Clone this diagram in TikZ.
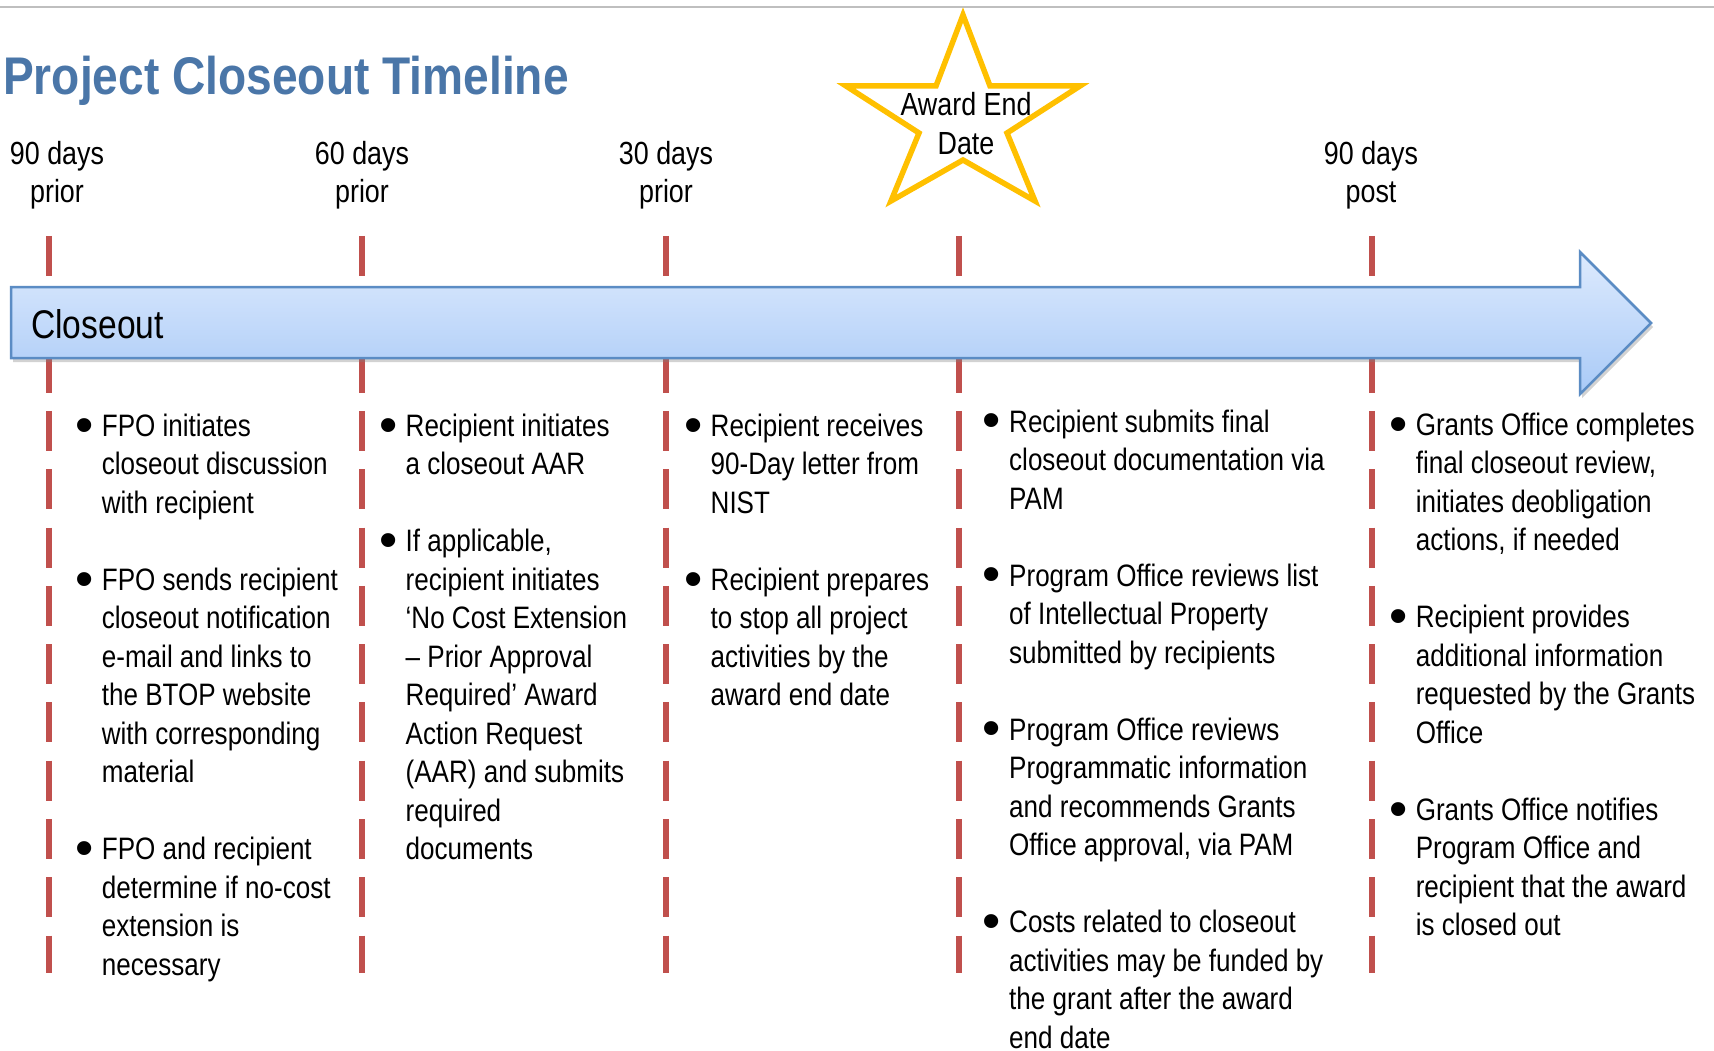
\documentclass[tikz,border=0pt]{standalone}
\usepackage{graphicx}
\usepackage{fontspec}
\setmainfont{Liberation Sans}[FakeStretch=0.84]
\newfontfamily\titlefont{Liberation Sans}[FakeStretch=0.87]
\usetikzlibrary{shadows}
\definecolor{titleblue}{HTML}{4A76A8}
\definecolor{tickred}{HTML}{C0504D}
\definecolor{stargold}{HTML}{FFC000}
\definecolor{arrowedge}{HTML}{5B8CC4}
\definecolor{arrowtop}{HTML}{DDEAFD}
\definecolor{arrowbot}{HTML}{A9CAF7}
\definecolor{rulegray}{HTML}{BFBFBF}
\newcommand{\bul}{\llap{\raisebox{-5.7pt}{\scalebox{2.0}[1.65]{\textbullet}}\hspace{8.4pt}}}
\newcommand{\fs}{\rule{0pt}{30pt}}
\begin{document}
\begin{tikzpicture}[x=1pt,y=-1pt,
  tick/.style={draw=tickred, line width=5.5pt, dash pattern=on 40pt off 18.3pt},
  body/.style={anchor=north west, inner sep=0pt, align=left, font=\fontsize{31}{38.5}\selectfont},
  hdr/.style={anchor=north, inner sep=0pt, align=center, font=\fontsize{32}{38}\selectfont}]
\useasboundingbox (0,0) rectangle (1714,1051);
\fill[white] (0,0) rectangle (1714,1051);
% top rule
\coordinate (rl) at (0,7);
\coordinate (rr) at (1714,7);
\draw[rulegray, line width=2.5pt] (rl) -- (rr);
% title
\node[anchor=base west, inner sep=0pt, text=titleblue, font=\titlefont\bfseries\fontsize{53}{60}\selectfont] (title) at (3,95) {Project Closeout Timeline};
% ticks
\foreach \n/\x in {1/49, 2/362, 3/666, 4/959, 5/1372} {
  \coordinate (t\n top) at (\x,236);
  \coordinate (t\n bot) at (\x,973);
  \draw[tick] (t\n top) -- (t\n bot);
}
% arrow
\draw[draw=arrowedge, line width=2.5pt, top color=arrowtop, bottom color=arrowbot, line join=miter,
      drop shadow={shadow xshift=2pt, shadow yshift=-4pt, opacity=0.35}]
  (11,287) -- (1580,287) -- (1580,252) -- (1651,323) -- (1580,394) -- (1580,358) -- (11,358) -- cycle;
\node[anchor=base west, inner sep=0pt, font=\fontsize{40}{48}\selectfont] (closeout) at (31,338) {Closeout};
% headers
\node[hdr] (h1) at (57,134) {\fs 90 days\\prior};
\node[hdr] (h2) at (362,134) {\fs 60 days\\prior};
\node[hdr] (h3) at (666,134) {\fs 30 days\\prior};
\node[hdr] (h5) at (1371,134) {\fs 90 days\\post};
% star
\draw[stargold, line width=5.5pt, fill=white, line join=miter]
  (963,15) -- (990,86) -- (1080,86) -- (1007,133) -- (1035,201) -- (963,160)
  -- (891,201) -- (919,133) -- (846,86) -- (936,86) -- cycle;
\node[hdr, font=\fontsize{32}{39}\selectfont] (award) at (966,85) {\fs Award End\\Date};
% column 1
\node[body] (c1a) at (101.7,406.2) {\bul\fs FPO initiates\\closeout discussion\\with recipient};
\node[body] (c1b) at (101.7,560.2) {\bul\fs FPO sends recipient\\closeout notification\\e-mail and links to\\the BTOP website\\with corresponding\\material};
\node[body] (c1c) at (101.7,829.7) {\bul\fs FPO and recipient\\determine if no-cost\\extension is\\necessary};
% column 2
\node[body] (c2a) at (405.5,406.2) {\bul\fs Recipient initiates\\a closeout AAR};
\node[body] (c2b) at (405.5,521.7) {\bul\fs If applicable,\\recipient initiates\\‘No Cost Extension\\– Prior Approval\\Required’ Award\\Action Request\\(AAR) and submits\\required\\documents};
% column 3
\node[body] (c3a) at (710.5,406.2) {\bul\fs Recipient receives\\90-Day letter from\\NIST};
\node[body] (c3b) at (710.5,560.2) {\bul\fs Recipient prepares\\to stop all project\\activities by the\\award end date};
% column 4
\node[body] (c4a) at (1009,401.9) {\bul\fs Recipient submits final\\closeout documentation via\\PAM};
\node[body] (c4b) at (1009,555.9) {\bul\fs Program Office reviews list\\of Intellectual Property\\submitted by recipients};
\node[body] (c4c) at (1009,709.9) {\bul\fs Program Office reviews\\Programmatic information\\and recommends Grants\\Office approval, via PAM};
\node[body] (c4d) at (1009,902.4) {\bul\fs Costs related to closeout\\activities may be funded by\\the grant after the award\\end date};
% column 5
\node[body] (c5a) at (1415.6,405.1) {\bul\fs Grants Office completes\\final closeout review,\\initiates deobligation\\actions, if needed};
\node[body] (c5b) at (1415.6,597.6) {\bul\fs Recipient provides\\additional information\\requested by the Grants\\Office};
\node[body] (c5c) at (1415.6,790.1) {\bul\fs Grants Office notifies\\Program Office and\\recipient that the award\\is closed out};
\end{tikzpicture}
\end{document}
